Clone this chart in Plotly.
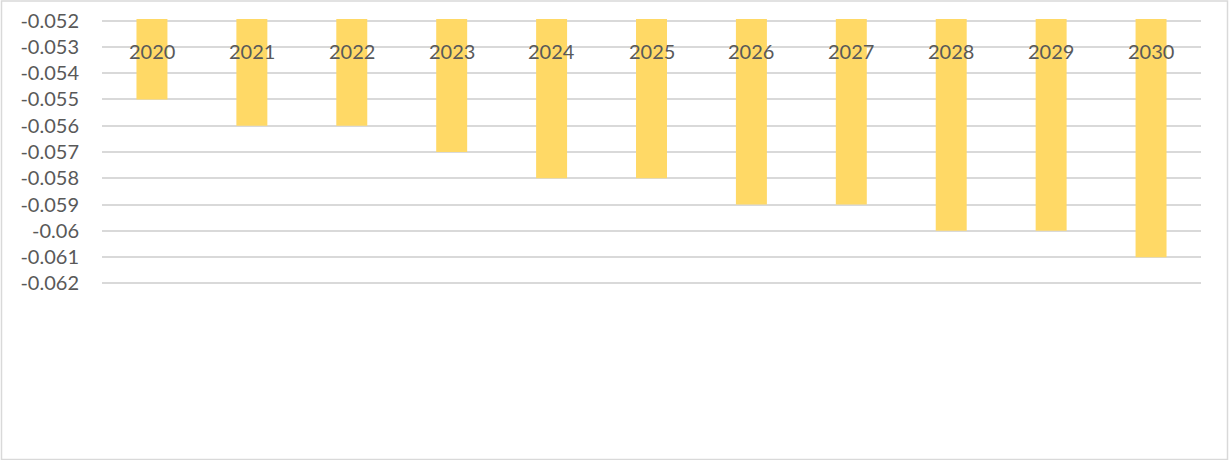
import plotly.graph_objects as go

years = ["2020", "2021", "2022", "2023", "2024", "2025",
         "2026", "2027", "2028", "2029", "2030"]
values = [-0.055, -0.056, -0.056, -0.057, -0.058, -0.058,
          -0.059, -0.059, -0.060, -0.060, -0.061]
tick_vals = [-0.052, -0.053, -0.054, -0.055, -0.056, -0.057,
             -0.058, -0.059, -0.060, -0.061, -0.062]
tick_text = ["-0.052", "-0.053", "-0.054", "-0.055", "-0.056", "-0.057",
             "-0.058", "-0.059", "-0.06", "-0.061", "-0.062"]

W, H = 1229, 460
y_top, y_bot = -0.052, -0.062
pad = 0.00006
px_per_unit = 262 / 0.010          # vertical scale of the value axis
pad_px = pad * px_per_unit
L, R = 102, 28
T = 21 - pad_px
B = H - (283 + pad_px)
pw, ph = W - L - R, H - T - B

font_family = "Lato, Liberation Sans, sans-serif"
text_color = "#595959"
grid_color = "#D9D9D9"

fig = go.Figure()
fig.add_trace(go.Bar(
    x=years, y=values, width=0.31,
    marker=dict(color="#FFD966", line=dict(width=0)),
    hoverinfo="x+y",
))

# category labels sit inside the plot, near the top (placed by category index)
for i, yr in enumerate(years):
    fig.add_annotation(x=i, y=-0.05315, xref="x", yref="y", text=yr,
                       showarrow=False,
                       font=dict(family=font_family, size=20, color=text_color))

# outer chart border
def px_x(p):
    return (p - L) / pw

def px_y(p):
    return (H - B - p) / ph

fig.add_shape(type="rect", xref="paper", yref="paper",
              x0=px_x(1.5), x1=px_x(W - 1.5), y0=px_y(H - 1.5), y1=px_y(1.5),
              line=dict(color=grid_color, width=1.5), fillcolor="rgba(0,0,0,0)",
              layer="below")

fig.update_layout(
    width=W, height=H,
    margin=dict(l=L, r=R, t=T, b=B, autoexpand=False),
    paper_bgcolor="white", plot_bgcolor="white",
    showlegend=False,
    font=dict(family=font_family, size=20, color=text_color),
    xaxis=dict(type="category", range=[-0.5, len(years) - 0.5],
               showticklabels=False, showgrid=False,
               zeroline=False, showline=False, ticks=""),
    yaxis=dict(range=[y_bot - pad, y_top + pad], tickvals=tick_vals,
               ticktext=tick_text, showgrid=True, gridcolor=grid_color,
               gridwidth=1.5, zeroline=False, showline=False, ticks="",
               ticklabelstandoff=22,
               tickfont=dict(family=font_family, size=20, color=text_color)),
)

fig.write_html("out.html")
